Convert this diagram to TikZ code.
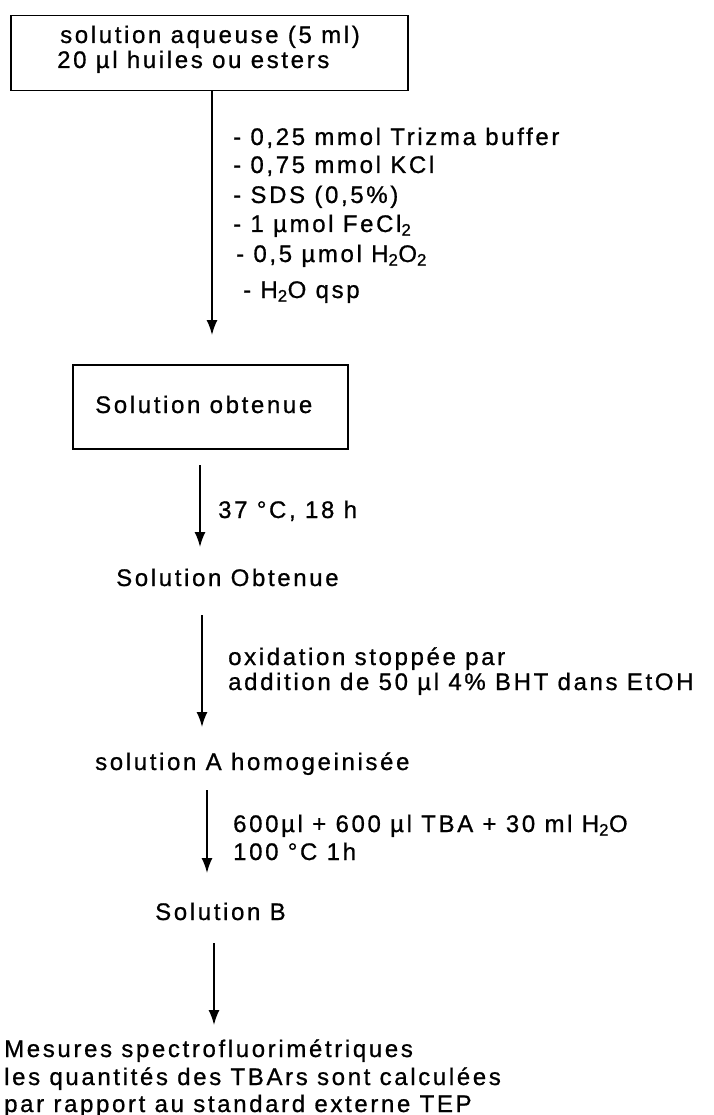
\documentclass[tikz,border=0pt]{standalone}
\usepackage{fontspec}
\setmainfont{Liberation Sans}[LetterSpace=11, FakeBold=0.8]
\usetikzlibrary{arrows.meta}
\begin{document}
\begin{tikzpicture}[x=1pt,y=-1pt,
 box/.style={draw, line width=1.5pt, inner sep=0pt, anchor=north west},
 txt/.style={anchor=base west, inner sep=0pt, font=\fontsize{24}{28}\selectfont},
 arr/.style={line width=1.6pt, -{Latex[length=15pt,width=11pt]}}]
\useasboundingbox (0,0) rectangle (713,1115);
% box 1
\node[box, minimum width=397pt, minimum height=75pt] (b1) at (10,15) {};
\node[txt] (t1a) at (60,43) {solution aqueuse (5 ml)};
\node[txt] (t1b) at (57,68) {20 µl huiles ou esters};
\coordinate (a1e) at (212,335);
\draw[arr] (b1.south -| a1e) -- (a1e);
\node[txt] (l1) at (233,145) {- 0,25 mmol Trizma buffer};
\node[txt] (l2) at (233,173) {- 0,75 mmol KCl};
\node[txt] (l3) at (233,203) {- SDS (0,5\%)};
\node[txt] (l4) at (233,232) {- 1 µmol FeCl\textsubscript{2}};
\node[txt] (l5) at (236,262) {- 0,5 µmol H\textsubscript{2}O\textsubscript{2}};
\node[txt] (l6) at (243,298) {- H\textsubscript{2}O qsp};
% box 2
\node[box, minimum width=275pt, minimum height=84pt] (b2) at (72,364) {};
\node[txt] (t2) at (95,413) {Solution obtenue};
\coordinate (a2s) at (200,465);
\coordinate (a2e) at (200,547);
\draw[arr] (a2s) -- (a2e);
\node[txt] (c2) at (218,518) {37 °C, 18 h};
\node[txt] (t3) at (116,586) {Solution Obtenue};
\coordinate (a3s) at (202,615);
\coordinate (a3e) at (202,727);
\draw[arr] (a3s) -- (a3e);
\node[txt] (c3a) at (228,665) {oxidation stoppée par};
\node[txt] (c3b) at (228,690) {addition de 50 µl 4\% BHT dans EtOH};
\node[txt] (t4) at (95,770) {solution A homogeinisée};
\coordinate (a4s) at (207,790);
\coordinate (a4e) at (207,873);
\draw[arr] (a4s) -- (a4e);
\node[txt] (c4a) at (233,832) {600µl + 600 µl TBA + 30 ml H\textsubscript{2}O};
\node[txt] (c4b) at (233,860) {100 °C 1h};
\node[txt] (t5) at (155,920) {Solution B};
\coordinate (a5s) at (214,943);
\coordinate (a5e) at (214,1025);
\draw[arr] (a5s) -- (a5e);
\node[txt] (f1) at (4,1057) {Mesures spectrofluorimétriques};
\node[txt] (f2) at (4,1085) {les quantités des TBArs sont calculées};
\node[txt] (f3) at (4,1112) {par rapport au standard externe TEP};
\end{tikzpicture}
\end{document}
